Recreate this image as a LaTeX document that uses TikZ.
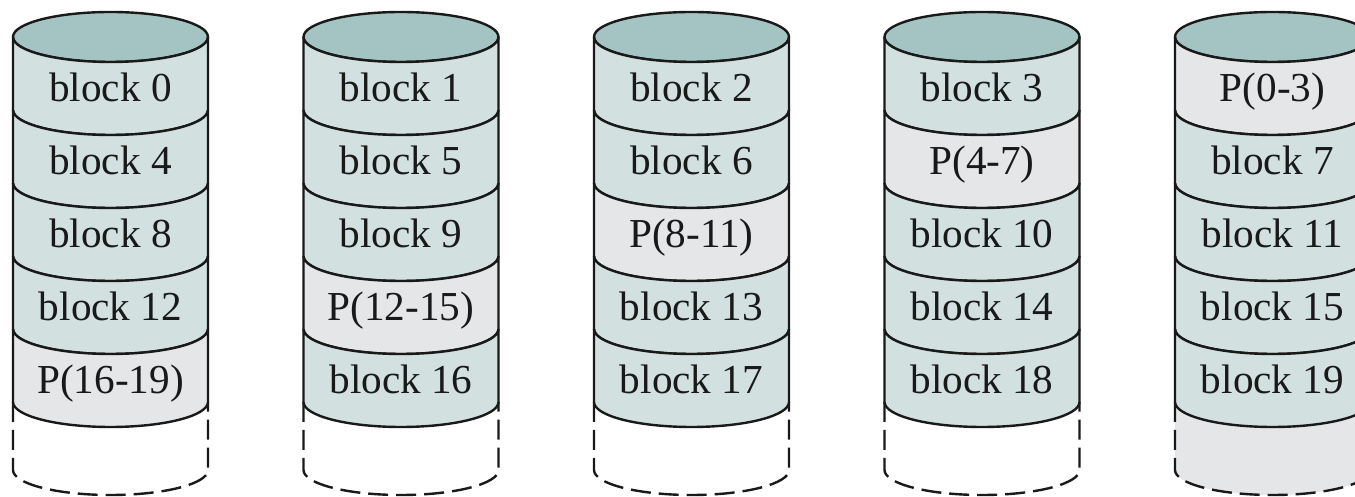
\documentclass[tikz,border=0pt]{standalone}
\usepackage{fontspec}
\setmainfont{Liberation Serif}
\definecolor{disktop}{RGB}{163,196,194}
\definecolor{datafill}{RGB}{210,224,224}
\definecolor{parityfill}{RGB}{229,230,232}
\tikzset{data_band/.style={fill=datafill, draw=black!90, line width=1.2pt},
	parity_band/.style={fill=parityfill, draw=black!90, line width=1.2pt},
	disk_top/.style={fill=disktop, draw=black!90, line width=1.2pt},
	spare_base/.style={draw=black!90, line width=1.2pt, dash pattern=on 10pt off 4pt},
	band_text/.style={anchor=base, text=black!90, font=\fontsize{20.6}{24}\selectfont}
}
% one stripe of a disk: name, x, top, style, text
\newcommand{\diskband}[5]{%
	\filldraw[#4] (#2-97.5,#3) -- (#2-97.5,#3-73)
		arc[start angle=180, end angle=360, x radius=48.75pt, y radius=12.5pt] -- (#2+97.5,#3)
		arc[start angle=0, end angle=-180, x radius=48.75pt, y radius=12.5pt] -- cycle;
	\node[band_text] (#1) at (#2,#3-65) {#5};}

\begin{document}
\begin{tikzpicture}[x=0.5pt, y=0.5pt]
	\useasboundingbox (0,0) rectangle (1355,497);
	
	% spare space below the stripes (filled on the last disk)
	\fill[parityfill] (1175,95) -- (1175,27)
		arc[start angle=180, end angle=360, x radius=48.75pt, y radius=12.5pt] -- (1370,95)
		arc[start angle=0, end angle=-180, x radius=48.75pt, y radius=12.5pt] -- cycle;
	\foreach \cx in {110.5, 401, 691.5, 982, 1272.5} {
		\draw[spare_base] (\cx-97.5,95) -- (\cx-97.5,27)
			arc[start angle=180, end angle=360, x radius=48.75pt, y radius=12.5pt] -- (\cx+97.5,95);
		\filldraw[disk_top] (\cx,460) ellipse[x radius=48.75pt, y radius=12.5pt];
	}
	
	% disk 0
	\diskband{b0}{110.5}{460}{data_band}{block 0}
	\diskband{b4}{110.5}{387}{data_band}{block 4}
	\diskband{b8}{110.5}{314}{data_band}{block 8}
	\diskband{b12}{110.5}{241}{data_band}{block 12}
	\diskband{p16}{110.5}{168}{parity_band}{P(16-19)}
	
	% disk 1
	\diskband{b1}{401}{460}{data_band}{block 1}
	\diskband{b5}{401}{387}{data_band}{block 5}
	\diskband{b9}{401}{314}{data_band}{block 9}
	\diskband{p12}{401}{241}{parity_band}{P(12-15)}
	\diskband{b16}{401}{168}{data_band}{block 16}
	
	% disk 2
	\diskband{b2}{691.5}{460}{data_band}{block 2}
	\diskband{b6}{691.5}{387}{data_band}{block 6}
	\diskband{p8}{691.5}{314}{parity_band}{P(8-11)}
	\diskband{b13}{691.5}{241}{data_band}{block 13}
	\diskband{b17}{691.5}{168}{data_band}{block 17}
	
	% disk 3
	\diskband{b3}{982}{460}{data_band}{block 3}
	\diskband{p4}{982}{387}{parity_band}{P(4-7)}
	\diskband{b10}{982}{314}{data_band}{block 10}
	\diskband{b14}{982}{241}{data_band}{block 14}
	\diskband{b18}{982}{168}{data_band}{block 18}
	
	% disk 4
	\diskband{p0}{1272.5}{460}{parity_band}{P(0-3)}
	\diskband{b7}{1272.5}{387}{data_band}{block 7}
	\diskband{b11}{1272.5}{314}{data_band}{block 11}
	\diskband{b15}{1272.5}{241}{data_band}{block 15}
	\diskband{b19}{1272.5}{168}{data_band}{block 19}
\end{tikzpicture}
\end{document}
